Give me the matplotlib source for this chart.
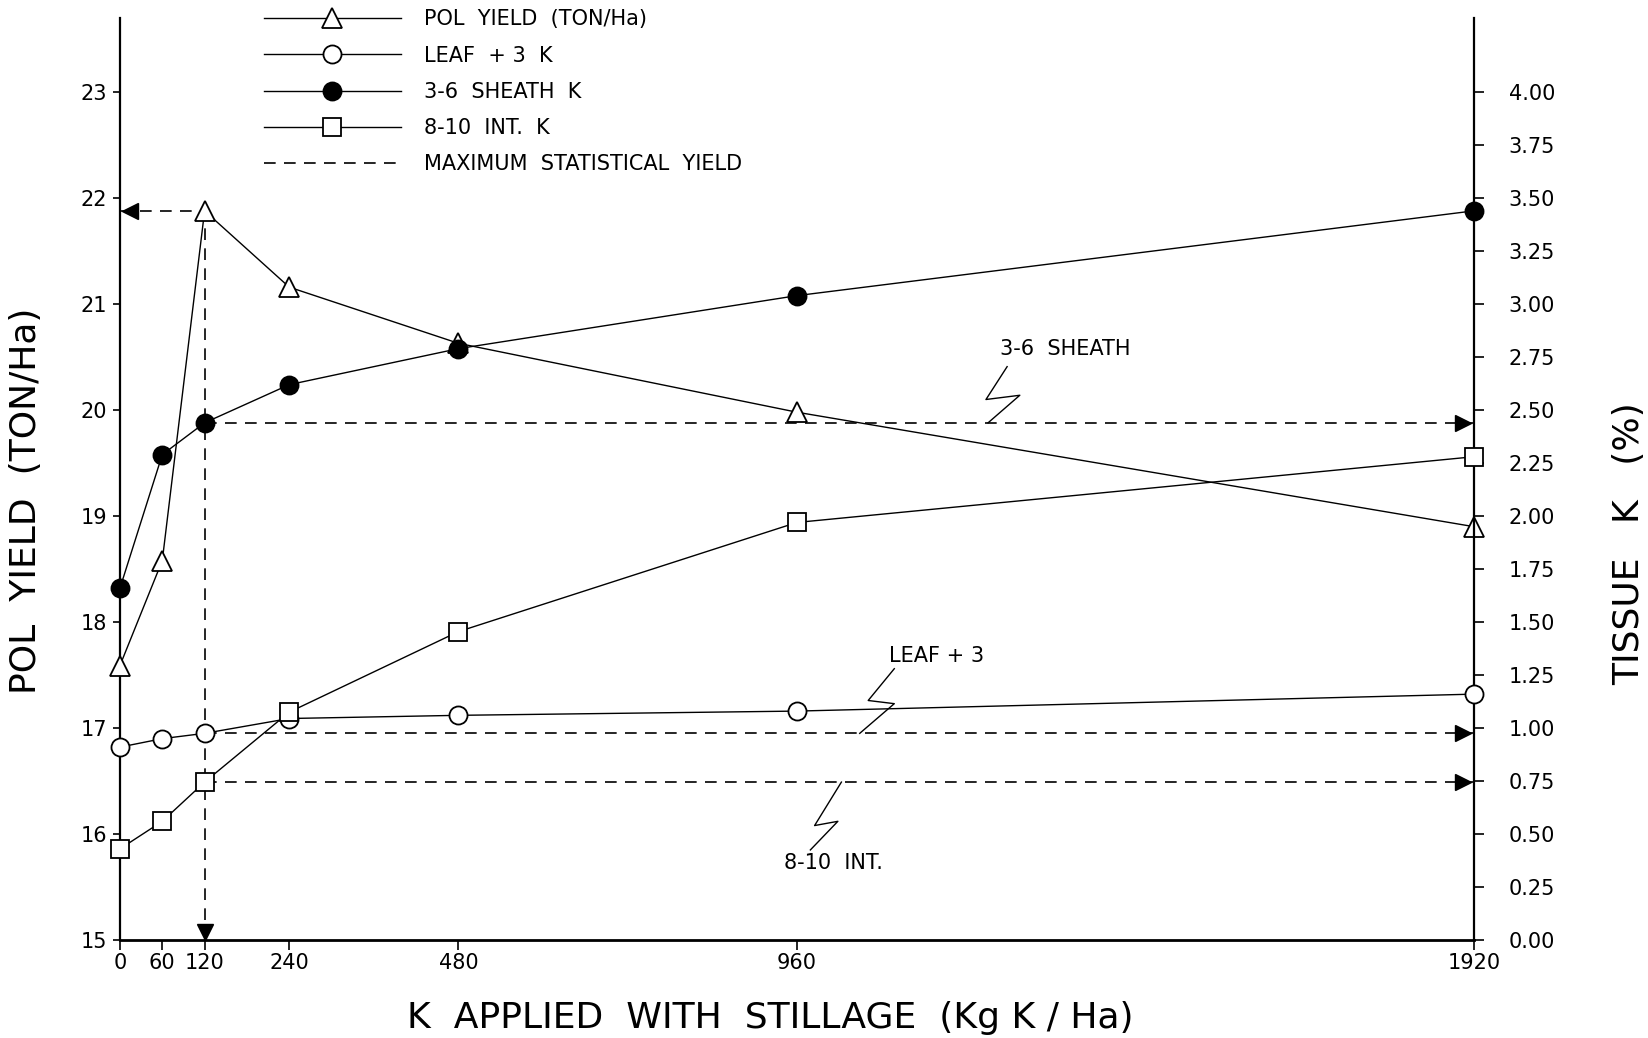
import numpy as np
import matplotlib.pyplot as plt
from matplotlib.lines import Line2D

# K applied with stillage (kg K/ha)
k_rate = [0, 60, 120, 240, 480, 960, 1920]

# pol yield in t/ha (left axis)
pol_yield = [17.59, 18.58, 21.88, 21.16, 20.63, 19.98, 18.90]

# tissue K in % (right axis)
leaf3_k = [0.91, 0.95, 0.975, 1.045, 1.06, 1.08, 1.16]
sheath_k = [1.66, 2.29, 2.44, 2.62, 2.79, 3.04, 3.44]
int_k = [0.43, 0.56, 0.745, 1.075, 1.455, 1.97, 2.28]

# rate at the maximum statistical yield
k_max = 120
i_max = k_rate.index(k_max)

# call-out labels and their zig-zag leaders (right axis units)
sheath_txt = (1341, 2.79)
sheath_zig = ([1258, 1228, 1276, 1231], [2.705, 2.55, 2.57, 2.44])
leaf_txt = (1158, 1.34)
leaf_zig = ([1098, 1061, 1098, 1049], [1.28, 1.13, 1.115, 0.975])
int_txt = (1011, 0.365)
int_zig = ([1023, 985, 1018, 979], [0.745, 0.54, 0.56, 0.425])

plt.rcParams['font.family'] = 'DejaVu Sans'

fig = plt.figure(figsize=(16.48, 10.38), dpi=100)
ax = fig.add_axes([0.0728, 0.0944, 0.8216, 0.8883])
ax2 = ax.twinx()

lw = 1.0
ms_kw = dict(markeredgecolor='black', markeredgewidth=1.3)
dash = (0, (7, 5))

# pol yield
ax.plot(k_rate, pol_yield, color='black', lw=lw, marker='^', ms=15,
        markerfacecolor='white', clip_on=False, zorder=3, **ms_kw)

# tissue K series
ax2.plot(k_rate, leaf3_k, color='black', lw=lw, marker='o', ms=13,
         markerfacecolor='white', clip_on=False, zorder=3, **ms_kw)
ax2.plot(k_rate, sheath_k, color='black', lw=lw, marker='o', ms=13,
         markerfacecolor='black', clip_on=False, zorder=3, **ms_kw)
ax2.plot(k_rate, int_k, color='black', lw=lw, marker='s', ms=13,
         markerfacecolor='white', clip_on=False, zorder=3, **ms_kw)

# maximum statistical yield guides
ymax = pol_yield[i_max]
ax.plot([0, k_max], [ymax, ymax], color='black', lw=1.2, ls=dash, zorder=2)
ax.plot([k_max, k_max], [15, ymax], color='black', lw=1.2, ls=dash, zorder=2)
ax.plot([14], [ymax], marker='<', ms=11, color='black', clip_on=False, zorder=4)
ax.plot([k_max], [15.08], marker='v', ms=11, color='black', clip_on=False, zorder=4)

for ser in (sheath_k, leaf3_k, int_k):
    v = ser[i_max]
    ax2.plot([k_max, 1920], [v, v], color='black', lw=1.2, ls=dash, zorder=2)
    ax2.plot([1905], [v], marker='>', ms=11, color='black', clip_on=False, zorder=4)

# call-outs
for (tx, ty), txt, (zx, zy) in [(sheath_txt, '3-6  SHEATH', sheath_zig),
                                (leaf_txt, 'LEAF + 3', leaf_zig),
                                (int_txt, '8-10  INT.', int_zig)]:
    ax2.text(tx, ty, txt, ha='center', va='center', fontsize=15)
    ax2.plot(zx, zy, color='black', lw=1.0)

# axes styling
ax.set_xlim(0, 1920)
ax.set_ylim(15, 23.7)
ax2.set_ylim(0, 4.35)
ax.set_xticks(k_rate)
ax.set_xticklabels([str(k) for k in k_rate])
ax.set_yticks(range(15, 24))
ax2.set_yticks(np.arange(0, 4.01, 0.25))
ax2.set_yticklabels([f'{v:.2f}' for v in np.arange(0, 4.01, 0.25)])

for a in (ax, ax2):
    a.spines['top'].set_visible(False)
ax.spines['right'].set_visible(False)
ax.spines['left'].set_linewidth(1.6)
ax.spines['bottom'].set_linewidth(2.0)
ax2.spines['left'].set_visible(False)
ax2.spines['bottom'].set_visible(False)
ax2.spines['right'].set_linewidth(1.6)

ax.tick_params(axis='y', direction='out', length=5, width=1.2, labelsize=15, pad=4)
ax.tick_params(axis='x', direction='out', length=7, width=1.2, labelsize=15, pad=2)
ax2.tick_params(axis='y', direction='out', length=7, width=1.2, labelsize=15, pad=18)

ax.set_ylabel('POL  YIELD  (TON/Ha)', fontsize=26)
ax.yaxis.set_label_coords(-0.057, 0.476)
ax2.set_ylabel('TISSUE   K   (%)', fontsize=26, rotation=90)
ax2.yaxis.set_label_coords(1.102, 0.43)
ax.set_xlabel('K  APPLIED  WITH  STILLAGE  (Kg K / Ha)', fontsize=26)
ax.xaxis.set_label_coords(0.48, -0.066)

# legend
handles = [
    Line2D([], [], color='black', lw=lw, marker='^', ms=15, markerfacecolor='white', **ms_kw),
    Line2D([], [], color='black', lw=lw, marker='o', ms=13, markerfacecolor='white', **ms_kw),
    Line2D([], [], color='black', lw=lw, marker='o', ms=13, markerfacecolor='black', **ms_kw),
    Line2D([], [], color='black', lw=lw, marker='s', ms=13, markerfacecolor='white', **ms_kw),
    Line2D([], [], color='black', lw=1.2, ls=dash),
]
labels = ['POL  YIELD  (TON/Ha)', 'LEAF  + 3  K', '3-6  SHEATH  K', '8-10  INT.  K',
          'MAXIMUM  STATISTICAL  YIELD']
fig.legend(handles, labels, loc='upper left', bbox_to_anchor=(0.16, 0.991),
           frameon=False, fontsize=15, numpoints=1, handlelength=6.6,
           handletextpad=1.1, labelspacing=0.78, borderpad=0, borderaxespad=0)

fig.savefig('out.png', dpi=100)
